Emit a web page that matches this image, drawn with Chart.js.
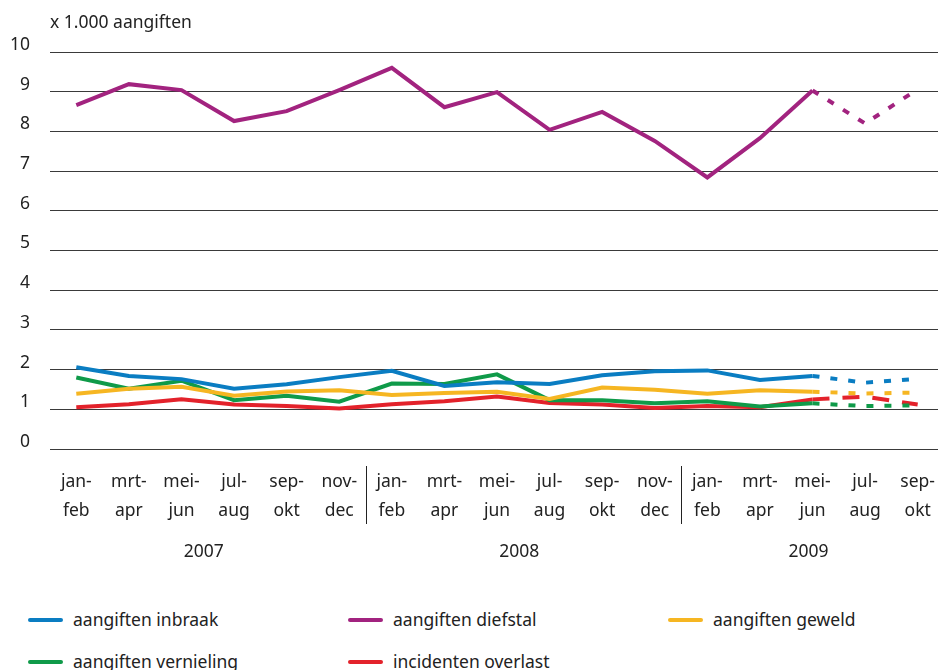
<!DOCTYPE html>
<html lang="nl">
<head>
    <meta charset="UTF-8">
    <title>Aangiften per periode</title>
    <style>
        body { margin: 0; overflow: hidden; background: #fff; font-family: "Noto Sans", Lato, sans-serif; }
        #wrap { position: relative; width: 938px; height: 670px; overflow: hidden; }
        canvas { position: absolute; left: 0; top: 0; }
        .leg { position: absolute; font-size: 17.5px; color: #222; line-height: 22px; white-space: nowrap; }
        .leg span { position: absolute; left: 0; top: 10px; width: 35px; height: 4px; border-radius: 2px; }
        .leg b { font-weight: normal; margin-left: 45px; }
    </style>
</head>
<body>
    <div id="wrap">
        <canvas id="myChart" width="946" height="600"></canvas>
        <div id="legend"></div>
    </div>

    <script src="https://cdn.jsdelivr.net/npm/chart.js"></script>
    <script>
        // twee-maandelijkse perioden, 2007 t/m sep-okt 2009
        const periods = [
            ['jan-', 'feb'], ['mrt-', 'apr'], ['mei-', 'jun'], ['jul-', 'aug'], ['sep-', 'okt'], ['nov-', 'dec'],
            ['jan-', 'feb'], ['mrt-', 'apr'], ['mei-', 'jun'], ['jul-', 'aug'], ['sep-', 'okt'], ['nov-', 'dec'],
            ['jan-', 'feb'], ['mrt-', 'apr'], ['mei-', 'jun'], ['jul-', 'aug'], ['sep-', 'okt']
        ];
        const years = ['2007', '2008', '2009'];
        const periodsPerYear = [6, 6, 5];
        const yTicks = [0, 1, 2, 3, 4, 5, 6, 7, 8, 9, 10];

        // x 1.000 aangiften
        const inbraak    = [2.06, 1.84, 1.76, 1.52, 1.63, 1.81, 1.97, 1.59, 1.68, 1.64, 1.86, 1.96, 1.98, 1.74, 1.84, 1.67, 1.77];
        const diefstal   = [8.66, 9.19, 9.04, 8.26, 8.51, 9.04, 9.60, 8.61, 8.99, 8.04, 8.49, 7.76, 6.84, 7.83, 9.03, 8.20, 9.06];
        const geweld     = [1.39, 1.52, 1.57, 1.34, 1.45, 1.48, 1.36, 1.41, 1.44, 1.26, 1.55, 1.49, 1.39, 1.48, 1.44, 1.40, 1.42];
        const vernieling = [1.80, 1.52, 1.72, 1.23, 1.34, 1.19, 1.65, 1.64, 1.88, 1.23, 1.23, 1.15, 1.20, 1.07, 1.15, 1.08, 1.10];
        const overlast   = [1.05, 1.13, 1.25, 1.12, 1.08, 1.02, 1.13, 1.20, 1.32, 1.16, 1.12, 1.03, 1.08, 1.05, 1.25, 1.32, 1.12];

        // vanaf mei-jun 2009 gestippeld (voorlopige cijfers)
        const lastFinal = 14;

        const series = [
            { label: 'aangiften inbraak',    data: inbraak,    color: '#0a7dc2', dash: [7, 11] },
            { label: 'aangiften diefstal',   data: diefstal,   color: '#a2237f', dash: [7, 11] },
            { label: 'aangiften geweld',     data: geweld,     color: '#f6b622', dash: [7, 11] },
            { label: 'aangiften vernieling', data: vernieling, color: '#0f9a49', dash: [7, 11] },
            { label: 'incidenten overlast',  data: overlast,   color: '#e3222b', dash: [17, 13] }
        ];

        const fontFamily = '"Noto Sans", Lato, sans-serif';
        const textColor = '#222';

        const extras = {
            id: 'extras',
            afterDraw(chart) {
                const c = chart.ctx;
                const x = chart.scales.x;
                const area = chart.chartArea;
                c.save();
                c.fillStyle = textColor;
                c.font = '17.5px ' + fontFamily;
                c.textBaseline = 'middle';
                c.textAlign = 'left';
                c.fillText('x 1.000 aangiften', area.left, 23);

                // jaartallen en scheidingslijnen
                let start = 0;
                c.textAlign = 'center';
                c.strokeStyle = '#222';
                c.lineWidth = 1;
                years.forEach((year, i) => {
                    const end = start + periodsPerYear[i] - 1;
                    const mid = (x.getPixelForValue(start) + x.getPixelForValue(end)) / 2;
                    c.fillText(year, mid - 4, 552);
                    if (i > 0) {
                        const sx = Math.round((x.getPixelForValue(start - 1) + x.getPixelForValue(start)) / 2) + 0.5;
                        c.beginPath();
                        c.moveTo(sx, 466);
                        c.lineTo(sx, 524);
                        c.stroke();
                    }
                    start = end + 1;
                });
                c.restore();
            }
        };

        const ctx = document.getElementById('myChart').getContext('2d');
        new Chart(ctx, {
            type: 'line',
            data: {
                labels: periods,
                datasets: series.map(s => ({
                    label: s.label,
                    data: s.data,
                    borderColor: s.color,
                    backgroundColor: s.color,
                    borderWidth: 4,
                    pointRadius: 0,
                    tension: 0,
                    segment: {
                        borderDash: seg => seg.p0DataIndex >= lastFinal ? s.dash : undefined
                    }
                }))
            },
            options: {
                responsive: false,
                animation: false,
                layout: { padding: { top: 52, right: 0, bottom: 0, left: 0 } },
                plugins: {
                    legend: { display: false },
                    tooltip: { enabled: false }
                },
                scales: {
                    x: {
                        offset: true,
                        grid: { display: false },
                        border: { display: false },
                        afterFit(scale) { scale.height = 151; },
                        ticks: {
                            color: textColor,
                            font: { family: fontFamily, size: 17.5, lineHeight: 1.65 },
                            padding: 11,
                            maxRotation: 0,
                            autoSkip: false
                        }
                    },
                    y: {
                        min: 0,
                        max: 10,
                        afterBuildTicks(scale) { scale.ticks = yTicks.map(v => ({ value: v })); },
                        afterFit(scale) { scale.width = 50; },
                        grid: { color: '#3a3a3a', lineWidth: 1, drawTicks: false },
                        border: { display: false },
                        ticks: {
                            color: textColor,
                            font: { family: fontFamily, size: 17.5 },
                            padding: 20,
                            labelOffset: -7
                        }
                    }
                }
            },
            plugins: [extras]
        });

        // legenda in drie kolommen
        const legendPos = [[28, 608], [348, 608], [668, 608], [28, 650], [348, 650]];
        const legend = document.getElementById('legend');
        series.forEach((s, i) => {
            const item = document.createElement('div');
            item.className = 'leg';
            item.style.left = legendPos[i][0] + 'px';
            item.style.top = legendPos[i][1] + 'px';
            item.innerHTML = '<span style="background:' + s.color + '"></span><b>' + s.label + '</b>';
            legend.appendChild(item);
        });
    </script>
</body>
</html>
